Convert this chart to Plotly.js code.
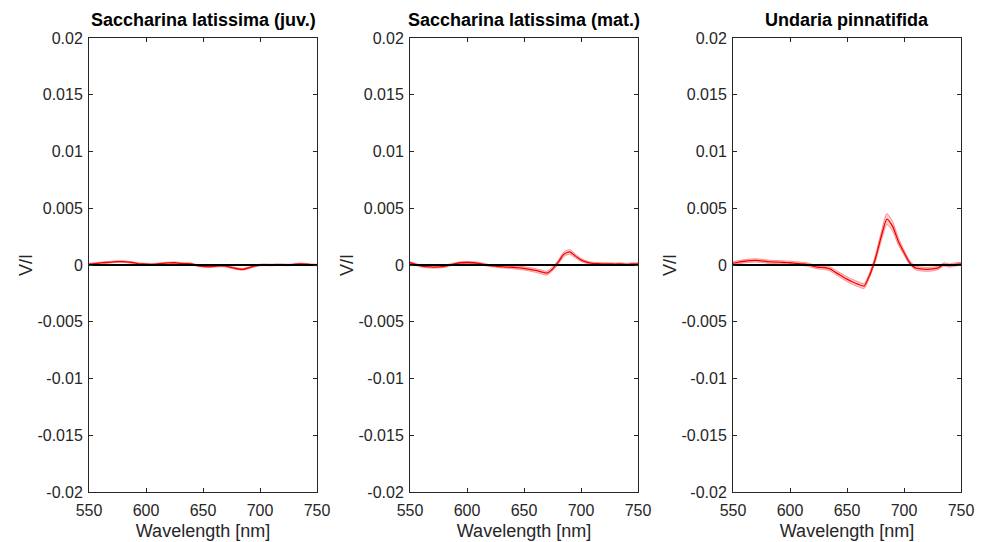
<!DOCTYPE html>
<html>
<head>
<meta charset="utf-8">
<script src="https://cdn.plot.ly/plotly-3.0.1.min.js"></script>
<style>html,body{margin:0;padding:0;background:#fff;}#chart{width:987px;height:542px;}</style>
</head>
<body>
<div id="chart"></div>
<script>
// Wavelength grid [nm]
const wavelength = [550,555,560,565,570,575,580,585,590,595,600,605,610,615,620,625,630,635,640,645,650,655,660,665,670,675,680,685,690,695,700,705,710,715,720,725,730,735,740,745,750];

// Panel titles
const panelTitles = ["Saccharina latissima (juv.)", "Saccharina latissima (mat.)", "Undaria pinnatifida"];

// Mean V/I (x1e-3)
const juvMean = [0.08,0.12,0.18,0.22,0.26,0.30,0.30,0.25,0.18,0.10,0.08,0.05,0.10,0.15,0.18,0.20,0.15,0.12,0.10,-0.05,-0.12,-0.15,-0.12,-0.08,-0.10,-0.22,-0.33,-0.38,-0.25,-0.10,0.00,0.02,0.00,0.03,0.02,0.00,0.05,0.10,0.08,0.02,0.00];
const juvStd  = [0.07,0.07,0.07,0.07,0.07,0.07,0.07,0.07,0.07,0.07,0.07,0.07,0.07,0.07,0.07,0.07,0.07,0.07,0.07,0.07,0.07,0.07,0.07,0.07,0.07,0.08,0.08,0.08,0.08,0.07,0.07,0.07,0.07,0.07,0.07,0.07,0.07,0.07,0.07,0.07,0.07];

const matMean = [0.20,0.05,-0.10,-0.15,-0.18,-0.17,-0.12,0.00,0.12,0.20,0.22,0.20,0.15,0.05,-0.05,-0.10,-0.15,-0.18,-0.20,-0.25,-0.30,-0.38,-0.48,-0.60,-0.72,-0.35,0.25,0.95,1.15,0.80,0.45,0.25,0.15,0.12,0.10,0.10,0.08,0.10,0.05,0.10,0.10];
const matStd  = [0.09,0.09,0.09,0.09,0.09,0.09,0.09,0.09,0.09,0.09,0.09,0.09,0.09,0.09,0.09,0.09,0.10,0.11,0.12,0.13,0.14,0.15,0.16,0.17,0.17,0.17,0.18,0.20,0.20,0.17,0.13,0.11,0.09,0.09,0.09,0.09,0.09,0.09,0.09,0.09,0.09];

const undMean = [0.15,0.25,0.33,0.38,0.40,0.37,0.30,0.27,0.25,0.22,0.20,0.15,0.10,0.05,-0.10,-0.20,-0.22,-0.35,-0.65,-0.95,-1.25,-1.50,-1.70,-1.85,-0.85,0.60,2.50,4.05,3.40,2.10,1.10,0.20,-0.25,-0.35,-0.38,-0.35,-0.25,0.05,-0.05,0.05,0.10];
const undStd  = [0.14,0.14,0.14,0.14,0.14,0.14,0.14,0.14,0.14,0.14,0.14,0.14,0.14,0.14,0.14,0.15,0.16,0.17,0.19,0.20,0.21,0.22,0.22,0.22,0.22,0.28,0.38,0.48,0.42,0.32,0.22,0.17,0.17,0.17,0.17,0.17,0.15,0.14,0.14,0.14,0.14];

// Axis ticks
const yTickVals = [-0.02,-0.015,-0.01,-0.005,0,0.005,0.01,0.015,0.02];
const yTickText = ["-0.02","-0.015","-0.01","-0.005","0","0.005","0.01","0.015","0.02"];
const xTickVals = [550,600,650,700,750];

const series = [[juvMean, juvStd],[matMean, matStd],[undMean, undStd]];
const scale = 1e-3;

const traces = [];
series.forEach(([m, s], i) => {
  const xa = i === 0 ? 'x' : 'x' + (i + 1);
  const ya = i === 0 ? 'y' : 'y' + (i + 1);
  const mean = m.map(v => v * scale);
  const lower = m.map((v, k) => (v - s[k]) * scale);
  const upper = m.map((v, k) => (v + s[k]) * scale);
  traces.push({x: wavelength, y: lower, xaxis: xa, yaxis: ya, mode: 'lines', line: {color: 'rgba(255,60,60,0.55)', width: 1, shape: 'spline', smoothing: 0.6}, hoverinfo: 'skip', showlegend: false});
  traces.push({x: wavelength, y: upper, xaxis: xa, yaxis: ya, mode: 'lines', fill: 'tonexty', fillcolor: 'rgba(255,0,0,0.18)', line: {color: 'rgba(255,60,60,0.55)', width: 1, shape: 'spline', smoothing: 0.6}, hoverinfo: 'skip', showlegend: false});
  traces.push({x: wavelength, y: mean, xaxis: xa, yaxis: ya, mode: 'lines', line: {color: '#ee0000', width: 1.3, shape: 'spline', smoothing: 0.6}, showlegend: false});
  traces.push({x: [wavelength[0], wavelength[wavelength.length - 1]], y: [0, 0], xaxis: xa, yaxis: ya, mode: 'lines', line: {color: '#000000', width: 2}, showlegend: false});
});

const W = 987, H = 542;
const xDomains = [[89/W, 317/W], [410/W, 638/W], [733/W, 961/W]];
const yDomain = [1 - 492/H, 1 - 38/H];
const fontFamily = '"Liberation Sans", Arial, Helvetica, sans-serif';
const axisColor = '#262626';

const layout = {
  width: W, height: H,
  margin: {l: 0, r: 0, t: 0, b: 0},
  paper_bgcolor: '#ffffff', plot_bgcolor: '#ffffff',
  font: {family: fontFamily, color: axisColor, size: 16},
  showlegend: false,
  annotations: []
};

xDomains.forEach((d, i) => {
  const sx = i === 0 ? '' : String(i + 1);
  layout['xaxis' + sx] = {
    domain: d, anchor: 'y' + sx, range: [550, 750],
    tickvals: xTickVals, ticks: 'inside', ticklen: 4, tickcolor: axisColor,
    showline: true, mirror: 'ticks', linecolor: axisColor, linewidth: 1,
    showgrid: false, zeroline: false,
    tickfont: {size: 16, color: axisColor}, ticklabelstandoff: 4,
    title: {text: 'Wavelength [nm]', font: {size: 18, color: axisColor}, standoff: 6},
    automargin: false
  };
  layout['yaxis' + sx] = {
    domain: yDomain, anchor: 'x' + sx, range: [-0.02, 0.02],
    tickvals: yTickVals, ticktext: yTickText, ticks: 'inside', ticklen: 4, tickcolor: axisColor,
    showline: true, mirror: 'ticks', linecolor: axisColor, linewidth: 1,
    showgrid: false, zeroline: false,
    tickfont: {size: 16, color: axisColor}, ticklabelstandoff: 2,
    title: {text: 'V/I', font: {size: 18, color: axisColor}, standoff: 0},
    automargin: false
  };
  layout.annotations.push({
    text: '<b>' + panelTitles[i] + '</b>', xref: 'paper', yref: 'paper',
    x: (d[0] + d[1]) / 2, y: 1 - 20/H, xanchor: 'center', yanchor: 'middle',
    showarrow: false, font: {size: 18, color: '#000000', family: fontFamily}
  });
});

Plotly.newPlot('chart', traces, layout, {staticPlot: true, displayModeBar: false});
</script>
</body>
</html>
